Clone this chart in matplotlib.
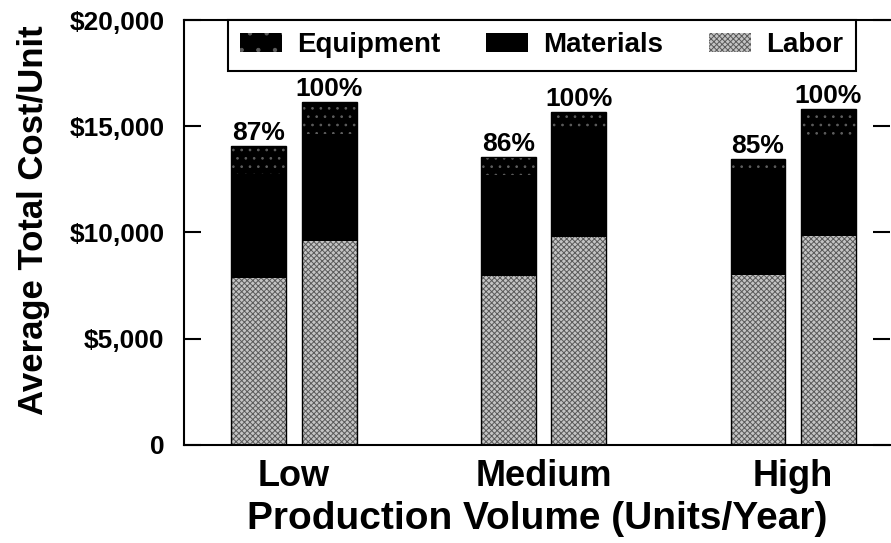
import matplotlib
matplotlib.use("Agg")
import matplotlib.pyplot as plt
import numpy as np
from matplotlib.patches import Patch

plt.rcParams['font.family'] = ['Liberation Sans', 'DejaVu Sans']
plt.rcParams['font.weight'] = 'bold'

groups = ["Low", "Medium", "High"]
# two bars per group (left: alternative, right: baseline 100%)
labor = [7860, 9600, 7950, 9790, 8000, 9840]
materials = [4910, 5040, 4750, 4930, 4850, 4770]
equipment = [1300, 1500, 850, 950, 600, 1200]
pct_labels = ["87%", "100%", "86%", "100%", "85%", "100%"]
yticks = [0, 5000, 10000, 15000, 20000]
ytick_labels = ["0", "$5,000", "$10,000", "$15,000", "$20,000"]

fig = plt.figure(figsize=(8.91, 5.43), dpi=100)
ax = fig.add_axes([184/891, 1-445/543, 1-184/891 - 0.001, (445-20)/543])

offs = 0.141
width = 0.22
gx = np.arange(len(groups))
xs = np.ravel([[g - offs, g + offs] for g in gx])

labor = np.array(labor, float)
materials = np.array(materials, float)
equipment = np.array(equipment, float)

LABOR_FACE = '#c4c4c4'
LABOR_HATCH = '#5a5a5a'
EQ_HATCH = '#5e5e5e'

plt.rcParams['hatch.linewidth'] = 0.7
plt.rcParams['hatch.color'] = LABOR_HATCH
ax.bar(xs, labor, width, color=LABOR_FACE, hatch='xxxxxx', linewidth=0)
ax.bar(xs, materials, width, bottom=labor, color='black', linewidth=0)
plt.rcParams['hatch.color'] = EQ_HATCH
ax.bar(xs, equipment, width, bottom=labor + materials, color='black',
       hatch='..', linewidth=0)
tot = labor + materials + equipment
ax.bar(xs, tot, width, fill=False, edgecolor='black', linewidth=1.0)

for x, t, s in zip(xs, tot, pct_labels):
    ax.text(x, t + 60, s, ha='center', va='bottom', fontsize=19,
            fontweight='bold')

ax.set_xlim(-0.44, 2.388)
ax.set_ylim(0, 20000)
ax.set_yticks(yticks)
ax.set_yticklabels(ytick_labels, fontsize=19, fontweight='bold')
ax.set_xticks(gx)
ax.set_xticklabels(groups, fontsize=26, fontweight='bold')
ax.tick_params(axis='x', length=0, pad=10)
ax.tick_params(axis='y', direction='in', length=12, width=1.5,
               left=True, right=True, labelright=False, pad=14)
for sp in ['left', 'bottom', 'top']:
    ax.spines[sp].set_linewidth(1.5)
ax.spines['right'].set_visible(False)

ax.set_ylabel("Average Total Cost/Unit", fontsize=25, fontweight='bold')
ax.yaxis.set_label_coords(-0.19, 0.528)
ax.set_xlabel("Production Volume (Units/Year)", fontsize=28,
              fontweight='bold', labelpad=5)

plt.rcParams['hatch.color'] = EQ_HATCH
h_eq = Patch(facecolor='black', hatch='.')
h_mat = Patch(facecolor='black')
plt.rcParams['hatch.color'] = LABOR_HATCH
h_lab = Patch(facecolor=LABOR_FACE, hatch='xxxxxx')
leg = ax.legend([h_eq, h_mat, h_lab], ["Equipment", "Materials", "Labor"],
                loc='upper left', bbox_to_anchor=(0.062, 1.0), ncol=3,
                borderaxespad=0, fancybox=False, framealpha=1,
                edgecolor='black', handlelength=1.5,
                handleheight=0.65, columnspacing=1.65, handletextpad=0.55,
                borderpad=0.45, prop={'weight': 'bold', 'size': 20})
leg.get_frame().set_linewidth(1.5)

fig.savefig("out.png", dpi=100)
